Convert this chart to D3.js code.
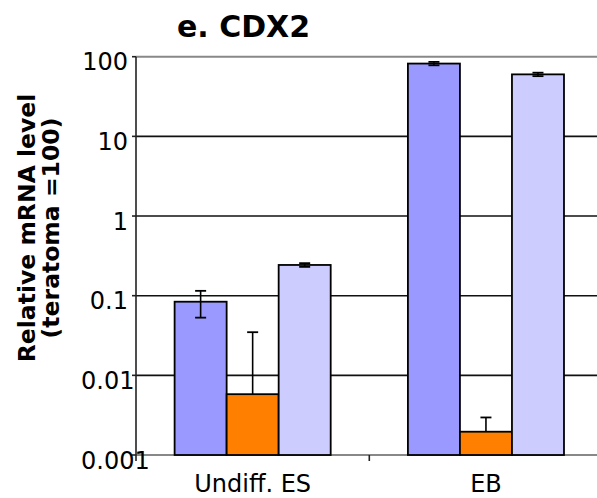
<!DOCTYPE html>
<html>
<head>
<meta charset="utf-8">
<script src="https://cdn.jsdelivr.net/npm/d3@7"></script>
<style>
  html, body { margin: 0; padding: 0; background: #fff; }
  svg { display: block; font-family: "DejaVu Sans", Verdana, sans-serif; }
</style>
</head>
<body>
<svg id="chart" width="597" height="498"></svg>
<script>
// CDX2 relative mRNA level (teratoma = 100), log scale
const categories = ["Undiff. ES", "EB"];
const seriesNames = ["s1", "s2", "s3"];
const seriesColors = ["#9999FF", "#FF8000", "#CCCCFF"];
const valuesS1 = [0.084, 82];
const valuesS2 = [0.0058, 0.00196];
const valuesS3 = [0.243, 60];
const errorsS1 = [0.031, 4];
const errorsS2 = [0.029, 0.001];
const errorsS3 = [0.013, 3];
const tickValues = [0.001, 0.01, 0.1, 1, 10, 100];
const tickLabels = ["0.001", "0.01", "0.1", "1", "10", "100"];

const values = [valuesS1, valuesS2, valuesS3];
const errors = [errorsS1, errorsS2, errorsS3];

const svg = d3.select("#chart");
const plot = { left: 136, right: 602.6, top: 56.7, bottom: 455 };

const y = d3.scaleLog().domain([0.001, 100]).range([plot.bottom, plot.top]);
const x0 = d3.scaleBand().domain(categories).range([plot.left, plot.right]).padding(0);
const groupW = x0.bandwidth() * 0.669;
const x1 = d3.scaleBand().domain(seriesNames)
  .range([(x0.bandwidth() - groupW) / 2, (x0.bandwidth() + groupW) / 2]).padding(0);

// horizontal gridlines
svg.append("g").selectAll("line").data(tickValues).join("line")
  .attr("x1", plot.left).attr("x2", 597)
  .attr("y1", d => y(d)).attr("y2", d => y(d))
  .attr("stroke", (d, i) => (i === 0 || i === tickValues.length - 1) ? "#888" : "#111")
  .attr("stroke-width", (d, i) => (i === 0 || i === tickValues.length - 1) ? 2 : 1.6);

// bars
const groups = svg.append("g").selectAll("g").data(categories).join("g")
  .attr("transform", d => `translate(${x0(d)},0)`);

const barData = (c, ci) => seriesNames.map((s, si) => ({
  s, si, v: values[si][ci], e: errors[si][ci]
}));

groups.selectAll("rect").data((c, ci) => barData(c, ci)).join("rect")
  .attr("x", d => x1(d.s))
  .attr("width", x1.bandwidth())
  .attr("y", d => y(d.v))
  .attr("height", d => plot.bottom - y(d.v))
  .attr("fill", d => seriesColors[d.si])
  .attr("stroke", "#000")
  .attr("stroke-width", 1.8);

// error bars
const capW = 11;
const eb = groups.selectAll("g.err").data((c, ci) => barData(c, ci)).join("g").attr("class", "err");
eb.each(function(d) {
  const g = d3.select(this);
  const cx = x1(d.s) + x1.bandwidth() / 2;
  const yTop = y(d.v + d.e);
  const hasLow = d.v - d.e > y.domain()[0];
  const yLow = hasLow ? y(d.v - d.e) : y(d.v);
  g.append("line").attr("x1", cx).attr("x2", cx).attr("y1", yTop).attr("y2", yLow)
    .attr("stroke", "#000").attr("stroke-width", 1.6);
  g.append("line").attr("x1", cx - capW / 2).attr("x2", cx + capW / 2)
    .attr("y1", yTop).attr("y2", yTop).attr("stroke", "#000").attr("stroke-width", 1.8);
  if (hasLow) {
    g.append("line").attr("x1", cx - capW / 2).attr("x2", cx + capW / 2)
      .attr("y1", yLow).attr("y2", yLow).attr("stroke", "#000").attr("stroke-width", 1.8);
  }
});

// y axis line and ticks
svg.append("line").attr("x1", plot.left).attr("x2", plot.left)
  .attr("y1", plot.top).attr("y2", plot.bottom + 6)
  .attr("stroke", "#222").attr("stroke-width", 1.6);
svg.append("g").selectAll("line").data(tickValues).join("line")
  .attr("x1", plot.left - 4).attr("x2", plot.left)
  .attr("y1", d => y(d)).attr("y2", d => y(d))
  .attr("stroke", "#222").attr("stroke-width", 1.6);

// y tick labels: right aligned, longer ones pushed right from a fixed left edge
const yl = svg.append("g").selectAll("text").data(tickValues).join("text")
  .attr("y", d => y(d) + 13.5)
  .attr("font-size", 24)
  .attr("fill", "#000")
  .text((d, i) => tickLabels[i]);
yl.attr("x", function() {
  const w = this.getComputedTextLength();
  return Math.max(128 - w, 81);
});

// category separator tick
svg.append("g").selectAll("line").data(categories.slice(1)).join("line")
  .attr("x1", d => x0(d)).attr("x2", d => x0(d))
  .attr("y1", plot.bottom).attr("y2", plot.bottom + 6)
  .attr("stroke", "#222").attr("stroke-width", 1.6);

// category labels
svg.append("g").selectAll("text").data(categories).join("text")
  .attr("x", d => x0(d) + x0.bandwidth() / 2)
  .attr("y", 492)
  .attr("text-anchor", "middle")
  .attr("font-size", 24)
  .attr("fill", "#000")
  .text(d => d);

// title
svg.append("text")
  .attr("x", 243.5).attr("y", 37)
  .attr("text-anchor", "middle")
  .attr("font-size", 30).attr("font-weight", "bold")
  .text("e. CDX2");

// y axis title
const yt = svg.append("text")
  .attr("transform", "translate(0,228) rotate(-90)")
  .attr("text-anchor", "middle")
  .attr("font-size", 23.5).attr("font-weight", "bold");
yt.append("tspan").attr("x", 0).attr("y", 35).text("Relative mRNA level");
yt.append("tspan").attr("x", 0).attr("y", 58.5).text("(teratoma =100)");
</script>
</body>
</html>
